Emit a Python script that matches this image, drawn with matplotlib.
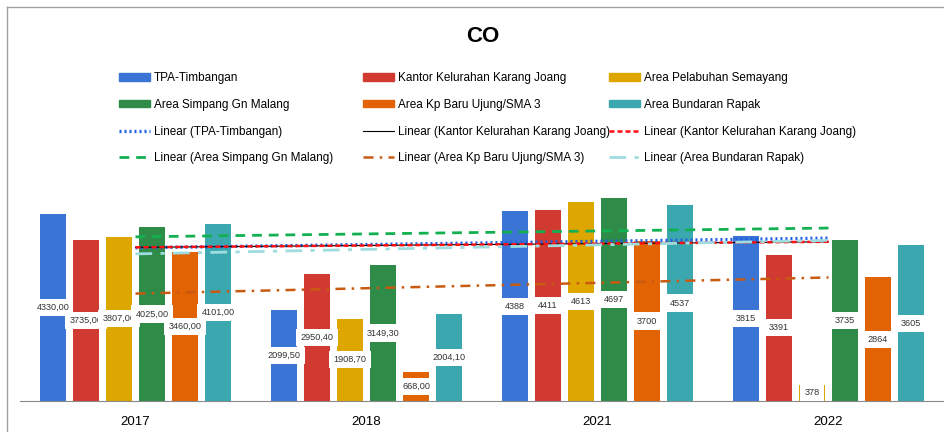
import matplotlib
matplotlib.use("Agg")
import matplotlib.pyplot as plt
from matplotlib.lines import Line2D
from matplotlib.patches import Patch
import numpy as np

plt.rcParams['font.family'] = ['Liberation Sans', 'DejaVu Sans']

years = ['2017', '2018', '2021', '2022']
series_names = ['TPA-Timbangan', 'Kantor Kelurahan Karang Joang', 'Area Pelabuhan Semayang',
                'Area Simpang Gn Malang', 'Area Kp Baru Ujung/SMA 3', 'Area Bundaran Rapak']
tpa = [4330.00, 2099.50, 4388, 3815]
kantor = [3735.00, 2950.40, 4411, 3391]
pelabuhan = [3807.00, 1908.70, 4613, 378]
simpang = [4025.00, 3149.30, 4697, 3735]
kpbaru = [3460.00, 668.00, 3700, 2864]
bundaran = [4101.00, 2004.10, 4537, 3605]
# text shown on each bar (first two years keep two decimals)
labels = [
    ['4330,00', '2099,50', '4388', '3815'],
    ['3735,00', '2950,40', '4411', '3391'],
    ['3807,00', '1908,70', '4613', '378'],
    ['4025,00', '3149,30', '4697', '3735'],
    ['3460,00', '668,00', '3700', '2864'],
    ['4101,00', '2004,10', '4537', '3605'],
]
all_values = [tpa, kantor, pelabuhan, simpang, kpbaru, bundaran]
bar_colors = ['#3a75d6', '#d13a30', '#dea600', '#2e8c48', '#e26304', '#3ba7af']

fig = plt.figure(figsize=(9.44, 4.32), dpi=100)
ax = fig.add_axes([20/944, 31/432, 924/944, 216/432])

x = np.arange(len(years))
pitch = 0.143
width = 0.115
for i, (vals, col) in enumerate(zip(all_values, bar_colors)):
    pos = x + (i - 2.5) * pitch
    ax.bar(pos, vals, width=width, color=col, zorder=2)
    for p, v, t in zip(pos, vals, labels[i]):
        ax.text(p, v / 2, t, ha='center', va='center', fontsize=6.6, color='#333333', zorder=5,
                bbox=dict(boxstyle='square,pad=0.45', fc='white', ec='none'))

# linear trendlines over the category positions
def trend(vals):
    k, b = np.polyfit(x, vals, 1)
    return k * x + b

ax.plot(x, trend(tpa), color='#1e5fe6', ls=(0, (0.6, 0.9)), lw=2.4, zorder=3)
ax.plot(x, trend(kantor), color='black', lw=0.8, zorder=3)
ax.plot(x, trend(kantor), color='#ff1010', ls=(0, (2, 1.2)), lw=1.8, zorder=3)
ax.plot(x, trend(simpang), color='#12b050', ls=(0, (3.5, 2.5)), lw=2, zorder=3)
ax.plot(x, trend(kpbaru), color='#c95a12', ls=(0, (4, 2.5, 1, 2.5)), lw=1.8, zorder=3)
ax.plot(x, trend(bundaran), color='#9fdce0', ls=(0, (6, 3, 1.5, 3)), lw=2, zorder=3)

ax.set_xlim(-0.5, 3.5)
ax.set_ylim(0, 5000)
ax.set_xticks(x)
ax.set_xticklabels(years, fontsize=9.5)
ax.tick_params(axis='x', length=0, pad=11)
ax.set_yticks([])
for s in ['top', 'right', 'left']:
    ax.spines[s].set_visible(False)
ax.spines['bottom'].set_color('#8a8a8a')

fig.text(483/944, 1 - 37/432, 'CO', ha='center', va='center', fontsize=16, fontweight='bold')

# legend, three columns laid out row by row
bar_h = [Patch(color=c) for c in bar_colors]
line_h = [
    Line2D([], [], color='#1e5fe6', ls=(0, (0.6, 0.9)), lw=2.4),
    Line2D([], [], color='black', lw=0.8),
    Line2D([], [], color='#ff1010', ls=(0, (2, 1.2)), lw=1.8),
    Line2D([], [], color='#12b050', ls=(0, (3.5, 2.5)), lw=2),
    Line2D([], [], color='#c95a12', ls=(0, (4, 2.5, 1, 2.5)), lw=1.8),
    Line2D([], [], color='#9fdce0', ls=(0, (6, 3, 1.5, 3)), lw=2),
]
line_names = ['Linear (TPA-Timbangan)', 'Linear (Kantor Kelurahan Karang Joang)',
              'Linear (Kantor Kelurahan Karang Joang)', 'Linear (Area Simpang Gn Malang)',
              'Linear (Area Kp Baru Ujung/SMA 3)', 'Linear (Area Bundaran Rapak)']
col_x = [119, 363, 609]
for c in range(3):
    hs = [bar_h[c], bar_h[c + 3], line_h[c], line_h[c + 3]]
    ns = [series_names[c], series_names[c + 3], line_names[c], line_names[c + 3]]
    fig.legend(hs, ns, loc='upper left', bbox_to_anchor=(col_x[c]/944, 1 - 72/432),
               frameon=False, fontsize=8.5, handlelength=2.6, handleheight=0.6,
               handletextpad=0.35, labelspacing=1.25, borderpad=0, borderaxespad=0)

# outer frame lines
fig.add_artist(Line2D([7/944, 1], [1 - 7/432, 1 - 7/432], color='#a0a0a0', lw=1))
fig.add_artist(Line2D([7/944, 7/944], [0, 1 - 7/432], color='#a0a0a0', lw=1))

fig.savefig('out.png', dpi=100)
